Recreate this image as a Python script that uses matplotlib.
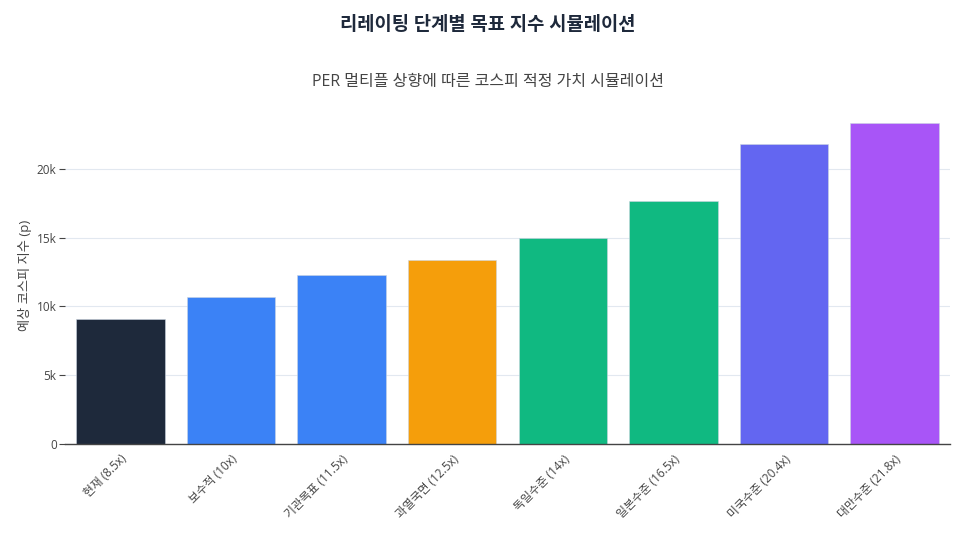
import matplotlib.pyplot as plt
from matplotlib.ticker import FuncFormatter

# 데이터
categories = ['현재 (8.5x)', '보수적 (10x)', '기관목표 (11.5x)', '과열국면 (12.5x)',
              '독일수준 (14x)', '일본수준 (16.5x)', '미국수준 (20.4x)', '대만수준 (21.8x)']
index_values = [9095, 10700, 12305, 13375, 14980, 17655, 21828, 23326]
bar_colors = ['#1e293b', '#3b82f6', '#3b82f6', '#f59e0b',
              '#10b981', '#10b981', '#6366f1', '#a855f7']

plt.rcParams['font.family'] = ['Open Sans', 'Noto Sans CJK KR', 'DejaVu Sans']

fig = plt.figure(figsize=(9.75, 5.44), dpi=100)
ax = fig.add_axes([65 / 975, 100 / 544, 885 / 975, 337 / 544])

x = range(len(categories))
ax.bar(x, index_values, width=0.8, color=bar_colors, edgecolor='#cbd5e1', linewidth=0.4, zorder=3)

ax.set_xlim(-0.5, len(categories) - 0.5)
ax.set_ylim(0, max(index_values) * 1.05)
ax.set_yticks([0, 5000, 10000, 15000, 20000])
ax.yaxis.set_major_formatter(FuncFormatter(lambda v, p: '0' if v == 0 else f'{int(v / 1000)}k'))
ax.grid(axis='y', color='#e2e8f0', linewidth=0.8, zorder=0)

ax.set_xticks(list(x))
ax.set_xticklabels(categories, rotation=45, ha='right', rotation_mode='anchor',
                   fontsize=8.5, color='#444444')
ax.tick_params(axis='x', length=0, pad=6)
ax.tick_params(axis='y', length=4, color='#444444', labelsize=8.5, labelcolor='#444444', pad=2)

for s in ['top', 'right', 'left']:
    ax.spines[s].set_visible(False)
ax.spines['bottom'].set_color('#444444')
ax.spines['bottom'].set_linewidth(1)
ax.spines['bottom'].set_zorder(4)

ax.set_ylabel('예상 코스피 지수 (p)', fontsize=9.5, color='#444444')
ax.yaxis.set_label_coords(-33 / 885, 0.5)

fig.text(0.5, 1 - 25 / 544, '리레이팅 단계별 목표 지수 시뮬레이션', ha='center', va='center',
         fontsize=13.5, fontweight='bold', color='#1e293b')
fig.text(0.5, 1 - 82 / 544, 'PER 멀티플 상향에 따른 코스피 적정 가치 시뮬레이션', ha='center', va='center',
         fontsize=11.5, color='#444444')

fig.savefig('out.png', dpi=100, facecolor='white')
